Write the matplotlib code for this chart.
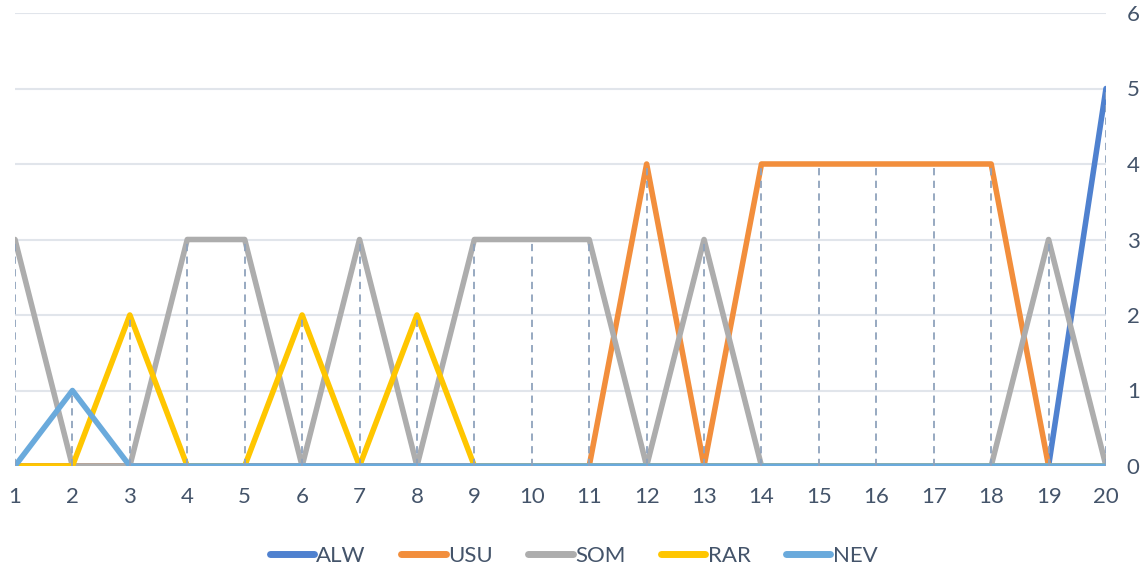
import matplotlib
matplotlib.use("Agg")
import matplotlib.pyplot as plt
import numpy as np

x = list(range(1, 21))
ALW = [0,0,0,0,0,0,0,0,0,0,0,0,0,0,0,0,0,0,0,5]
USU = [0,0,0,0,0,0,0,0,0,0,0,4,0,4,4,4,4,4,0,0]
SOM = [3,0,0,3,3,0,3,0,3,3,3,0,3,0,0,0,0,0,3,0]
RAR = [0,0,2,0,0,2,0,2,0,0,0,0,0,0,0,0,0,0,0,0]
NEV = [0,1,0,0,0,0,0,0,0,0,0,0,0,0,0,0,0,0,0,0]
series = [("ALW", ALW, "#4F81CF"), ("USU", USU, "#F28E3C"), ("SOM", SOM, "#ADADAD"),
          ("RAR", RAR, "#FFC600"), ("NEV", NEV, "#6AAADC")]

plt.rcParams['font.family'] = ['Lato', 'DejaVu Sans']
txt = "#44546A"

fig = plt.figure(figsize=(11.47, 5.74), dpi=100)
ax = fig.add_axes([15/1147, 1-466/574, (1106-15)/1147, (466-13)/574])

for yv in range(1, 7):
    ax.axhline(yv, color="#E1E5EB", lw=1.5, zorder=0)

for name, vals, c in series:
    ax.plot(x, vals, color=c, lw=4.0, label=name, solid_capstyle="round", solid_joinstyle="round", zorder=2)

tops = np.max(np.array([s[1] for s in series]), axis=0)
ax.vlines(x, 0, tops, colors="#8FA2BC", linestyles=(0, (4, 3)), lw=1.3, zorder=3)

ax.set_xlim(1, 20)
ax.set_ylim(0, 6)
ax.set_xticks(x)
ax.set_yticks(range(0, 7))
ax.yaxis.tick_right()
ax.tick_params(axis="both", length=0, labelsize=16, colors=txt)
ax.tick_params(axis="x", pad=15)
ax.tick_params(axis="y", pad=15)
for s in ax.spines.values():
    s.set_visible(False)

leg = fig.legend(loc="center", bbox_to_anchor=(0.5, 1-556/574), ncol=5, frameon=False,
                 fontsize=16, handlelength=2.0, columnspacing=1.6, handletextpad=0.1,
                 labelcolor=txt)
for h in leg.get_lines():
    h.set_linewidth(5)

fig.savefig("out.png", dpi=100)
